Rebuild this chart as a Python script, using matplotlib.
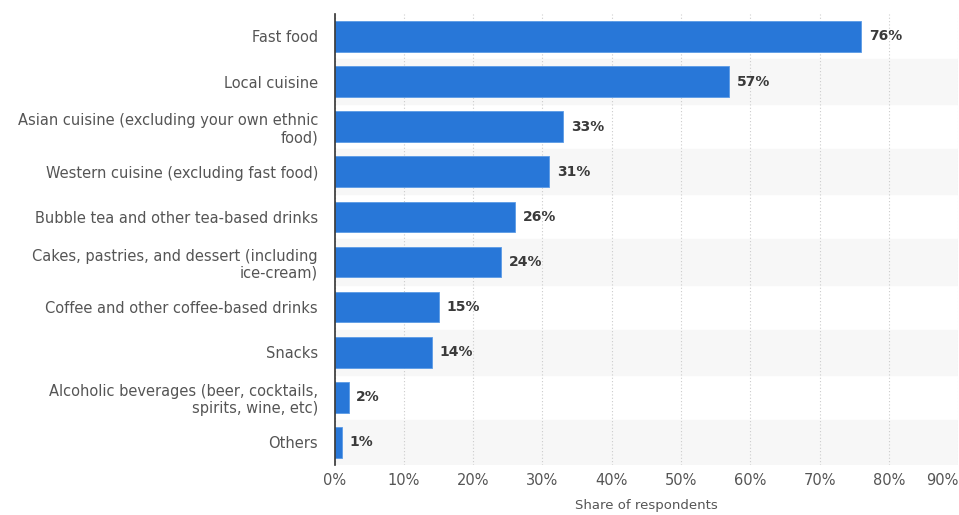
#!/usr/bin/env python3
"""Horizontal bar chart: food types ordered, share of respondents."""

import matplotlib

matplotlib.use("Agg")
import matplotlib.pyplot as plt  # noqa: E402

CATEGORIES = [
    "Fast food",
    "Local cuisine",
    "Asian cuisine (excluding your own ethnic\nfood)",
    "Western cuisine (excluding fast food)",
    "Bubble tea and other tea-based drinks",
    "Cakes, pastries, and dessert (including\nice-cream)",
    "Coffee and other coffee-based drinks",
    "Snacks",
    "Alcoholic beverages (beer, cocktails,\nspirits, wine, etc)",
    "Others",
]
SHARES = [76, 57, 33, 31, 26, 24, 15, 14, 2, 1]
X_TICKS = [0, 10, 20, 30, 40, 50, 60, 70, 80, 90]

BAR_COLOR = "#2877d8"
TEXT_COLOR = "#555555"


def main() -> int:
    plt.rcParams.update({"font.family": "DejaVu Sans", "font.size": 10})
    fig = plt.figure(figsize=(9.59, 5.15), dpi=100)
    ax = fig.add_axes([0.349, 0.097, 0.650, 0.876])

    n = len(CATEGORIES)
    ys = list(range(n))
    for i in ys:
        if i % 2 == 1:
            ax.axhspan(i - 0.5, i + 0.5, color="#f7f7f7", zorder=0)

    ax.barh(ys, SHARES, height=0.68, color=BAR_COLOR, edgecolor="#5b9be6",
            linewidth=0.6, zorder=3)
    for y, v in zip(ys, SHARES):
        ax.text(v + 1.1, y, f"{v}%", va="center", ha="left", fontsize=10,
                fontweight="bold", color="#3a3a3a", zorder=4)

    ax.set_ylim(n - 0.5, -0.5)
    ax.set_xlim(0, 90)
    ax.set_yticks(ys, CATEGORIES, color=TEXT_COLOR, fontsize=10.5)
    ax.set_xticks(X_TICKS, [f"{t}%" for t in X_TICKS], color=TEXT_COLOR,
                  fontsize=10.5)
    ax.get_xticklabels()[-1].set_horizontalalignment("right")
    ax.tick_params(axis="x", length=0, pad=6)
    ax.tick_params(axis="y", length=0, pad=12)
    ax.xaxis.grid(True, linestyle=(0, (1, 2)), color="#cccccc",
                  linewidth=0.8, zorder=1)
    ax.set_axisbelow(True)
    for side in ("top", "right", "bottom"):
        ax.spines[side].set_visible(False)
    ax.spines["left"].set_color("#333333")
    ax.spines["left"].set_linewidth(1.2)
    ax.spines["left"].set_zorder(5)
    ax.set_xlabel("Share of respondents", color=TEXT_COLOR, fontsize=9.5,
                  labelpad=8)

    fig.savefig("out.png", dpi=100)
    plt.close(fig)
    return 0


if __name__ == "__main__":
    raise SystemExit(main())
